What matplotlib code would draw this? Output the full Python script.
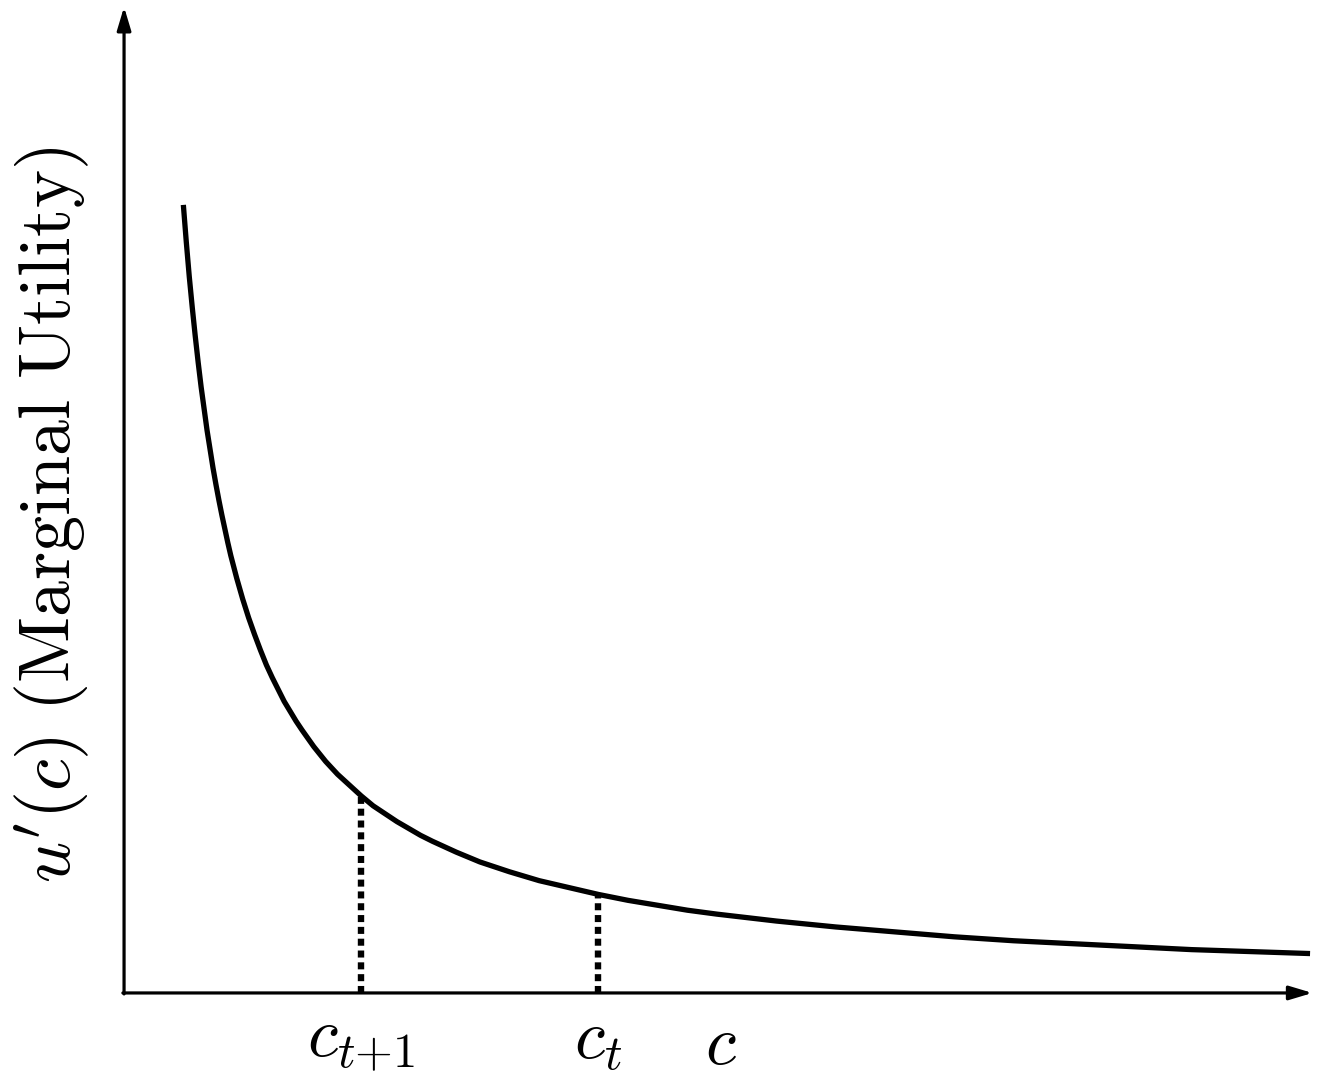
import matplotlib
matplotlib.use("Agg")
import matplotlib.pyplot as plt

plt.rcParams["mathtext.fontset"] = "cm"

# marginal utility curve
c_vals = [0.5, 0.525, 0.55, 0.575, 0.6, 0.625, 0.65, 0.675, 0.7, 0.725, 0.75, 0.775,
          0.8, 0.825, 0.85, 0.875, 0.9, 0.95, 1.0, 1.05, 1.1, 1.15, 1.2, 1.25, 1.3,
          1.35, 1.4, 1.45, 1.5, 1.6, 1.7, 1.8, 1.9, 2.0, 2.1, 2.2, 2.3, 2.4, 2.5,
          2.6, 2.8, 3.0, 3.25, 3.5, 3.75, 4.0, 4.25, 4.5, 4.75, 5.0, 5.5, 6.0, 6.5,
          7.0, 7.5, 8.0, 8.5, 9.0, 9.5, 10.0]
mu_vals = [8.0, 7.62, 7.27, 6.96, 6.67, 6.4, 6.15, 5.93, 5.71, 5.52, 5.33, 5.16,
           5.0, 4.85, 4.71, 4.57, 4.44, 4.21, 4.0, 3.81, 3.64, 3.48, 3.33, 3.2, 3.08,
           2.96, 2.86, 2.76, 2.67, 2.5, 2.35, 2.22, 2.11, 2.0, 1.9, 1.82, 1.74, 1.67, 1.6,
           1.54, 1.43, 1.33, 1.23, 1.14, 1.07, 1.0, 0.94, 0.89, 0.84, 0.8, 0.73, 0.67, 0.62,
           0.57, 0.53, 0.5, 0.47, 0.44, 0.42, 0.4]

# marked consumption levels and their labels
mark_c = [2.0, 4.0]
mark_mu = [2.0, 1.0]
mark_labels = [r"$c_{t{+}1}$", r"$c_t$"]

fig = plt.figure(figsize=(13.39, 10.89), dpi=100)
ax = fig.add_axes([0, 0, 1, 1])
ax.set_xlim(-1.046, 10.244)
ax.set_ylim(-0.975, 10.08)
ax.axis("off")

# axes with arrow heads
arrow = dict(arrowstyle="-|>,head_length=1.4,head_width=0.42", color="black",
             lw=2.3, shrinkA=0, shrinkB=0)
ax.annotate("", xy=(10.02, 0), xytext=(-0.01, 0), arrowprops=arrow)
ax.annotate("", xy=(0, 10.01), xytext=(0, -0.01), arrowprops=arrow)

ax.plot(c_vals, mu_vals, color="black", lw=3.8, solid_capstyle="butt",
        solid_joinstyle="round", zorder=3)

for c, m, lab in zip(mark_c, mark_mu, mark_labels):
    ax.plot([c, c], [0, m], color="black", lw=4.6, linestyle=(0, (1.1, 0.75)), zorder=2)
    ax.text(c, -0.48, lab, fontsize=50, ha="center", va="center")

ax.text(5.03, -0.52, r"$c$", fontsize=50, ha="center", va="center")
ax.text(-0.61, 4.85, r"$u'(c)\ \mathrm{(Marginal\ Utility)}$", fontsize=52,
        rotation=90, ha="center", va="center")

fig.savefig("out.png", dpi=100)
